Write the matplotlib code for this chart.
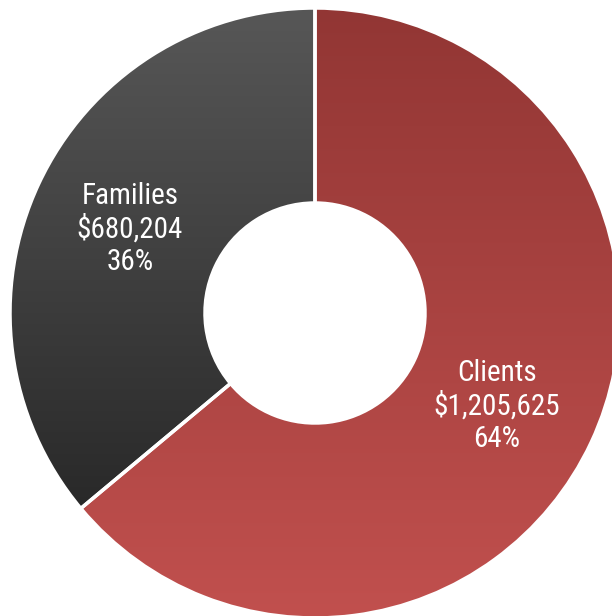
import matplotlib
matplotlib.use("Agg")
import matplotlib.pyplot as plt
import numpy as np
from matplotlib.patches import Wedge
from matplotlib.colors import LinearSegmentedColormap

# segment data
labels = ["Clients", "Families"]
amounts = [1205625, 680204]
top_colors = ["#923634", "#575757"]
bottom_colors = ["#c1504e", "#1f1f1f"]

W, H = 612, 616
cx, cy = 315, 313
r_out, r_in = 305, 110

fig = plt.figure(figsize=(W / 100, H / 100), dpi=100)
ax = fig.add_axes([0, 0, 1, 1])
ax.set_xlim(0, W)
ax.set_ylim(H, 0)
ax.axis("off")

total = sum(amounts)
fracs = [a / total for a in amounts]

grad = np.linspace(0, 1, 256).reshape(-1, 1)
for i, (lab, amt, fr) in enumerate(zip(labels, amounts, fracs)):
    sweep = fr * 360
    # Clients runs clockwise from top, Families fills the rest
    if i == 0:
        t1, t2 = 90 - sweep, 90
    else:
        t1, t2 = 90, 90 + sweep
    # y axis points down, so angles get mirrored
    w = Wedge((cx, cy), r_out, -t2, -t1, width=r_out - r_in,
              facecolor="none", edgecolor="none")
    ax.add_patch(w)
    cmap = LinearSegmentedColormap.from_list(lab, [top_colors[i], bottom_colors[i]])
    im = ax.imshow(grad, cmap=cmap, aspect="auto",
                   extent=[cx - r_out, cx + r_out, cy + r_out, cy - r_out],
                   interpolation="bilinear", zorder=1)
    im.set_clip_path(w)
    edge = Wedge((cx, cy), r_out, -t2, -t1, width=r_out - r_in,
                 facecolor="none", edgecolor="white", linewidth=2.5, zorder=2)
    ax.add_patch(edge)

ax.set_xlim(0, W)
ax.set_ylim(H, 0)

font = dict(family=["Roboto Condensed", "DejaVu Sans"], color="white",
            fontsize=21, ha="center", va="center", zorder=3, linespacing=1.18)
ax.text(130, 229, "Families\n${:,}\n{:.0f}%".format(amounts[1], fracs[1] * 100), **font)
ax.text(497, 406, "Clients\n${:,}\n{:.0f}%".format(amounts[0], fracs[0] * 100), **font)

fig.savefig("out.png", dpi=100)
